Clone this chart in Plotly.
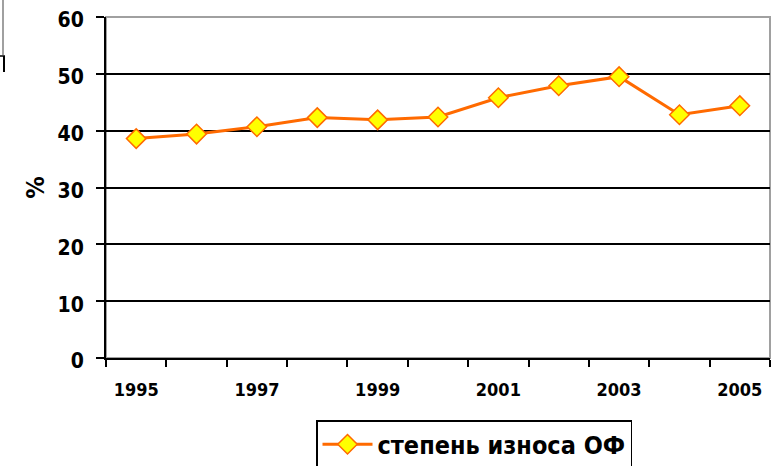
import plotly.graph_objects as go

years = [1995, 1996, 1997, 1998, 1999, 2000, 2001, 2002, 2003, 2004, 2005]
wear = [38.6, 39.4, 40.7, 42.3, 41.9, 42.4, 45.8, 47.9, 49.5, 42.8, 44.4]
series_name = "степень износа ОФ"
label_years = [1995, 1997, 1999, 2001, 2003, 2005]
y_ticks = [0, 10, 20, 30, 40, 50, 60]

FONT = "DejaVu Sans Condensed, Liberation Sans Narrow, Roboto, sans-serif"

fig = go.Figure()
fig.add_trace(go.Scatter(
    x=years, y=wear, mode="lines+markers", name=series_name,
    line=dict(color="#FF6A00", width=3),
    marker=dict(symbol="diamond", size=15, color="#FFFF00",
                line=dict(color="#FF6A00", width=1.5)),
))

fig.update_layout(
    width=779, height=466,
    margin=dict(l=106, r=9, t=17, b=108, autoexpand=False),
    paper_bgcolor="white", plot_bgcolor="white",
    font=dict(family=FONT, color="black"),
    showlegend=True,
    legend=dict(
        x=(316 - 106) / 664, xanchor="left",
        y=(358 - 420) / 341, yanchor="top",
        bordercolor="black", borderwidth=1.5,
        font=dict(size=25, family=FONT, weight="bold"),
        itemwidth=50,
    ),
    xaxis=dict(
        range=[1994.5, 2005.5],
        tickvals=label_years,
        ticktext=[str(v) for v in label_years],
        ticks="", showgrid=False, automargin=False,
        tickfont=dict(size=18, family=FONT, weight="bold"),
        ticklabelstandoff=14,
        showline=True, linecolor="black", linewidth=2,
        minor=dict(ticks="outside", tick0=1994.5, dtick=1, ticklen=7,
                   tickwidth=2, tickcolor="black", showgrid=False),
        zeroline=False,
    ),
    yaxis=dict(
        range=[0, 60],
        tickvals=y_ticks, automargin=False,
        ticklabeloverflow="allow",
        ticklabelshift=3,
        ticks="outside", ticklen=8, tickwidth=2, tickcolor="black",
        showgrid=True, gridcolor="black", gridwidth=2,
        tickfont=dict(size=21, family=FONT, weight="bold"),
        ticklabelstandoff=8,
        showline=True, linecolor="black", linewidth=2,
        zeroline=False,
        title=dict(text="%", font=dict(size=25, family=FONT, weight="bold"),
                   standoff=6),
    ),
    shapes=[
        dict(type="rect", xref="paper", yref="paper", x0=0, x1=1, y0=0, y1=1,
             line=dict(color="#A0A0A0", width=2), fillcolor="rgba(0,0,0,0)",
             layer="below"),
        # fragment of a frame at the top-left corner of the picture
        dict(type="line", xref="paper", yref="paper",
             x0=-103 / 664, x1=-103 / 664, y0=1 + 17 / 341, y1=1 - 38 / 341,
             line=dict(color="#A0A0A0", width=2)),
        dict(type="line", xref="paper", yref="paper",
             x0=-102 / 664, x1=-102 / 664, y0=1 - 39 / 341, y1=1 - 55 / 341,
             line=dict(color="black", width=2)),
        dict(type="line", xref="paper", yref="paper",
             x0=-106 / 664, x1=-101 / 664, y0=1 - 39 / 341, y1=1 - 39 / 341,
             line=dict(color="black", width=1.5)),
    ],
)

fig.write_html(
    "out.html",
    config={"displayModeBar": False},
    post_script="document.body.style.margin='0';document.body.style.overflow='hidden';",
)
